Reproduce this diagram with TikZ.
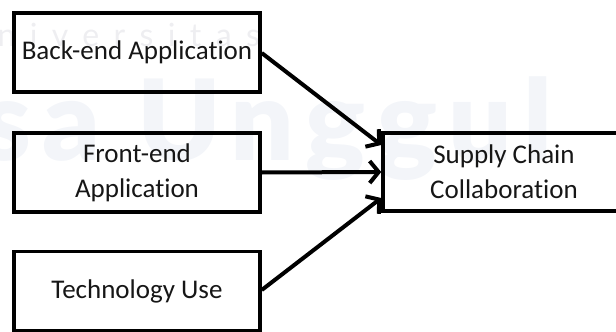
\documentclass[tikz,border=0pt]{standalone}
\usepackage{fontspec}
\setmainfont[Ligatures=NoCommon]{Carlito}
\newfontfamily\wmsmall[LetterSpace=45]{Lato}
\newfontfamily\wmbig[LetterSpace=10]{Lato Black}
\usetikzlibrary{arrows.meta}
\definecolor{wmgray}{HTML}{EEEEF1}
\definecolor{wmblue}{HTML}{F3F5F9}
\definecolor{ink}{HTML}{161616}
\begin{document}
\begin{tikzpicture}[x=1pt,y=-1pt,
  blockbox/.style={draw=black, line width=3.5pt, minimum width=246pt,
    minimum height=79pt, align=center, inner sep=0pt,
    font=\fontsize{27}{35}\selectfont, text=ink},
  link/.style={line width=4pt, -{Straight Barb[length=9pt,width=22pt]}}]
  \useasboundingbox (0,0) rectangle (616,332);
  \clip (0,0) rectangle (616,332);
  % faint background lettering
  \node[anchor=base west, text=wmgray, font=\wmsmall\fontsize{32}{32}\selectfont] (wm1) at (-6,46) {niversitas};
  \node[anchor=base west, text=wmblue, font=\wmbig\fontsize{112}{112}\selectfont] (wm2) at (-22,160) {sa Unggul};
  % blocks
  \node[blockbox] (back) at (137,52.5) {Back-end Application};
  \node[blockbox] (front) at (137,172.5) {Front-end\\Application};
  \node[blockbox] (tech) at (137,291) {Technology Use};
  \node[blockbox, minimum width=242pt, minimum height=78pt] (scc) at (504,172) {Supply Chain\\Collaboration};
  % influences
  \draw[link] (back.east |- 0,53) -- (scc.west |- 0,145);
  \draw[link] (front.east) -- (scc.west);
  \draw[link] (tech.east |- 0,290) -- (scc.west |- 0,198);
\end{tikzpicture}
\end{document}
